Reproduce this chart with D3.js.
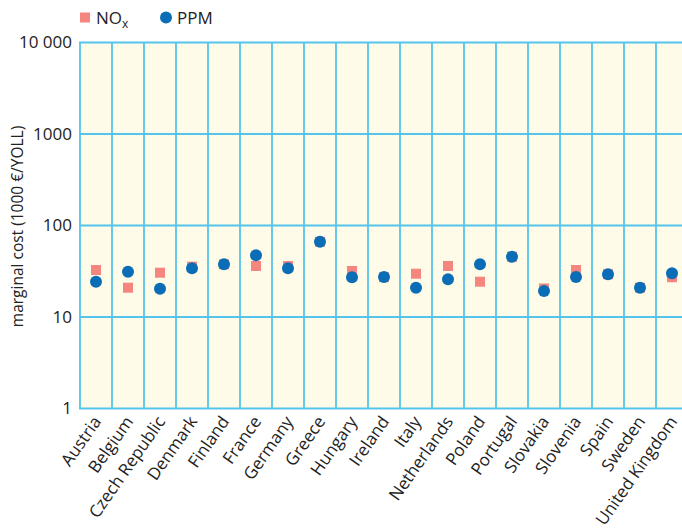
<!DOCTYPE html>
<html>
<head>
<meta charset="utf-8">
<script src="https://cdn.jsdelivr.net/npm/d3@7"></script>
<style>
  html, body { margin: 0; padding: 0; background: #fff; }
  svg { display: block; font-family: "Open Sans", "Noto Sans", sans-serif; }
</style>
</head>
<body>
<svg id="chart" width="682" height="528"></svg>
<script>
// Countries along the x axis
const countries = ["Austria", "Belgium", "Czech Republic", "Denmark", "Finland", "France",
  "Germany", "Greece", "Hungary", "Ireland", "Italy", "Netherlands", "Poland", "Portugal",
  "Slovakia", "Slovenia", "Spain", "Sweden", "United Kingdom"];

// Marginal cost, 1000 €/YOLL
const noxValues = [32.6, 20.9, 30.5, 35.5, 37.7, 36.1, 36.1, 66.5, 31.8, 27.3,
  29.7, 36.1, 24.3, 45.6, 20.5, 32.6, 29.3, 20.9, 27.2];
const ppmValues = [24.3, 31.3, 20.4, 34.1, 37.7, 47.2, 34.1, 66.5, 27.2, 27.3,
  20.9, 25.8, 37.7, 45.6, 19.2, 27.3, 29.3, 20.9, 30.0];

// Y axis ticks
const yTicks = [1, 10, 100, 1000, 10000];
const yTickLabels = ["1", "10", "100", "1000", "10 000"];

const svg = d3.select("#chart");
const gridColor = "#55c4ec";
const bgColor = "#fefbe9";
const noxColor = "#f4857f";
const ppmColor = "#0a6db5";
const textColor = "#222";
const fontFamily = "\"Open Sans\", sans-serif";

const plotLeft = 80, plotTop = 42.5, plotBottom = 408.5, bandW = 32;

const x = d3.scaleBand().domain(countries).range([plotLeft, plotLeft + bandW * countries.length]);
const y = d3.scaleLog().domain([1, 10000]).range([plotBottom, plotTop]);

// Plot background
svg.append("rect")
  .attr("x", plotLeft).attr("y", plotTop)
  .attr("width", x.range()[1] - plotLeft).attr("height", plotBottom - plotTop)
  .attr("fill", bgColor);

// Vertical grid lines at band edges
const edges = countries.map(c => x(c)).concat([x.range()[1]]);
svg.append("g").selectAll("line").data(edges).join("line")
  .attr("x1", d => d).attr("x2", d => d)
  .attr("y1", plotTop).attr("y2", plotBottom)
  .attr("stroke", gridColor).attr("stroke-width", 1.8);

// Horizontal grid lines at decades
svg.append("g").selectAll("line").data(yTicks).join("line")
  .attr("x1", plotLeft - 0.9).attr("x2", x.range()[1])
  .attr("y1", d => y(d)).attr("y2", d => y(d))
  .attr("stroke", gridColor).attr("stroke-width", 1.8);

// Y axis labels
const yAxis = d3.axisLeft(y).tickValues(yTicks)
  .tickFormat((d, i) => yTickLabels[i]).tickSize(0).tickPadding(8);
const gy = svg.append("g").attr("transform", `translate(${plotLeft},0)`).call(yAxis);
gy.select(".domain").remove();
gy.selectAll("text").attr("font-size", 17).attr("fill", textColor)
  .attr("font-family", fontFamily);

// Y axis title
svg.append("text")
  .attr("transform", `translate(23,${(plotTop + plotBottom) / 2 + 1}) rotate(-90)`)
  .attr("text-anchor", "middle")
  .attr("font-size", 15.5).attr("fill", textColor)
  .attr("font-family", fontFamily)
  .text("marginal cost (1000 €/YOLL)");

// X axis labels, rotated
const xAxis = d3.axisBottom(x).tickSize(0).tickPadding(0);
const gx = svg.append("g").attr("transform", `translate(0,${plotBottom})`).call(xAxis);
gx.select(".domain").remove();
gx.selectAll("text")
  .attr("font-size", 17).attr("fill", textColor)
  .attr("font-family", fontFamily)
  .attr("text-anchor", "end")
  .attr("dy", null).attr("y", 0)
  .attr("transform", "translate(6,13) rotate(-55)");

// NOx squares
const sq = 10;
svg.append("g").selectAll("rect").data(noxValues).join("rect")
  .attr("x", (d, i) => x(countries[i]) + bandW / 2 - sq / 2)
  .attr("y", d => y(d) - sq / 2)
  .attr("width", sq).attr("height", sq)
  .attr("fill", noxColor);

// PPM circles
svg.append("g").selectAll("circle").data(ppmValues).join("circle")
  .attr("cx", (d, i) => x(countries[i]) + bandW / 2)
  .attr("cy", d => y(d))
  .attr("r", 6)
  .attr("fill", ppmColor);

// Legend
const legend = svg.append("g").attr("font-family", fontFamily);
legend.append("rect").attr("x", 80).attr("y", 12.5).attr("width", 10).attr("height", 10)
  .attr("fill", noxColor);
const noxLabel = legend.append("text").attr("x", 96).attr("y", 23.5)
  .attr("font-size", 17).attr("fill", textColor);
noxLabel.append("tspan").text("NO");
noxLabel.append("tspan").attr("font-size", 12).attr("dy", 4).text("x");
legend.append("circle").attr("cx", 166).attr("cy", 17.5).attr("r", 6).attr("fill", ppmColor);
legend.append("text").attr("x", 177).attr("y", 23.5)
  .attr("font-size", 17).attr("fill", textColor).text("PPM");
</script>
</body>
</html>
